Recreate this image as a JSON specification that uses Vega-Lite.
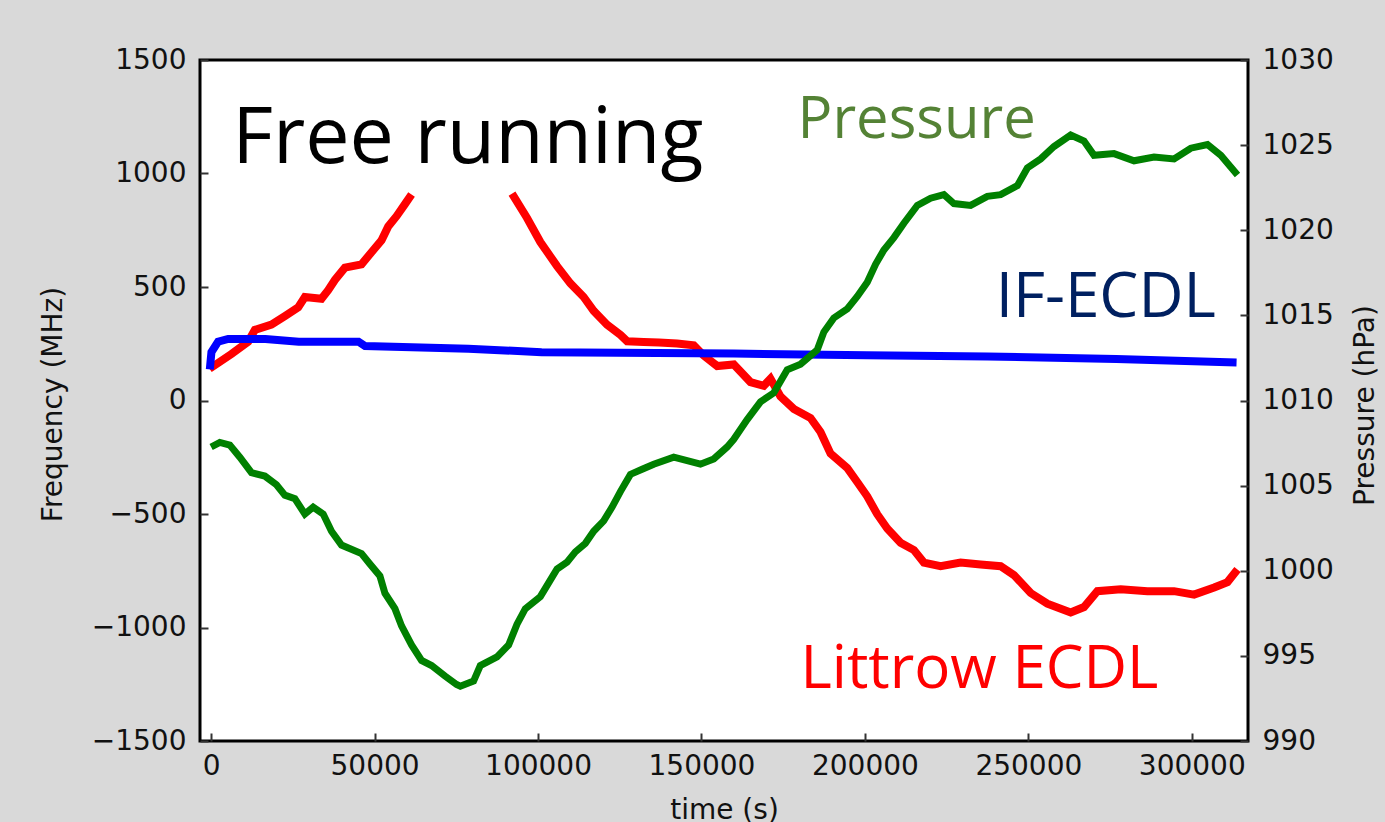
{
  "$schema": "https://vega.github.io/schema/vega-lite/v6.json",
  "autosize": {"type": "none"},
  "width": 1048,
  "height": 681,
  "padding": {"left": 200, "top": 60, "right": 137, "bottom": 81},
  "datasets": {
    "littrow": [
      {"t": -500, "f": 140, "seg": "a"}, {"t": 6214, "f": 205, "seg": "a"}, {"t": 11326, "f": 259, "seg": "a"}, {"t": 13378, "f": 311, "seg": "a"},
      {"t": 18459, "f": 334, "seg": "a"}, {"t": 22560, "f": 372, "seg": "a"}, {"t": 26632, "f": 410, "seg": "a"}, {"t": 28683, "f": 456, "seg": "a"},
      {"t": 33765, "f": 448, "seg": "a"}, {"t": 35816, "f": 486, "seg": "a"}, {"t": 37867, "f": 531, "seg": "a"}, {"t": 40928, "f": 585, "seg": "a"},
      {"t": 46010, "f": 600, "seg": "a"}, {"t": 49071, "f": 653, "seg": "a"}, {"t": 52133, "f": 706, "seg": "a"}, {"t": 54184, "f": 767, "seg": "a"},
      {"t": 56724, "f": 812, "seg": "a"}, {"t": 59296, "f": 865, "seg": "a"}, {"t": 61316, "f": 908, "seg": "a"},
      {"t": 92051, "f": 911, "seg": "b"}, {"t": 96643, "f": 804, "seg": "b"}, {"t": 100714, "f": 698, "seg": "b"}, {"t": 105826, "f": 592, "seg": "b"},
      {"t": 109898, "f": 516, "seg": "b"}, {"t": 113969, "f": 456, "seg": "b"}, {"t": 117030, "f": 395, "seg": "b"}, {"t": 121133, "f": 334, "seg": "b"},
      {"t": 125204, "f": 289, "seg": "b"}, {"t": 127255, "f": 261, "seg": "b"}, {"t": 132337, "f": 258, "seg": "b"}, {"t": 137000, "f": 255, "seg": "b"},
      {"t": 142561, "f": 251, "seg": "b"}, {"t": 147643, "f": 243, "seg": "b"}, {"t": 150704, "f": 198, "seg": "b"}, {"t": 154806, "f": 152, "seg": "b"},
      {"t": 159898, "f": 159, "seg": "b"}, {"t": 165000, "f": 81, "seg": "b"}, {"t": 169082, "f": 65, "seg": "b"}, {"t": 171122, "f": 96, "seg": "b"},
      {"t": 174184, "f": 18, "seg": "b"}, {"t": 178265, "f": -37, "seg": "b"}, {"t": 183367, "f": -77, "seg": "b"}, {"t": 186429, "f": -139, "seg": "b"},
      {"t": 189490, "f": -234, "seg": "b"}, {"t": 194592, "f": -297, "seg": "b"}, {"t": 197653, "f": -359, "seg": "b"}, {"t": 200714, "f": -422, "seg": "b"},
      {"t": 203776, "f": -501, "seg": "b"}, {"t": 206837, "f": -564, "seg": "b"}, {"t": 210918, "f": -627, "seg": "b"}, {"t": 214996, "f": -659, "seg": "b"},
      {"t": 218052, "f": -714, "seg": "b"}, {"t": 223156, "f": -730, "seg": "b"}, {"t": 229278, "f": -714, "seg": "b"}, {"t": 235408, "f": -722, "seg": "b"},
      {"t": 241531, "f": -730, "seg": "b"}, {"t": 245602, "f": -769, "seg": "b"}, {"t": 250714, "f": -848, "seg": "b"}, {"t": 255816, "f": -895, "seg": "b"},
      {"t": 262959, "f": -934, "seg": "b"}, {"t": 267031, "f": -910, "seg": "b"}, {"t": 271122, "f": -840, "seg": "b"}, {"t": 278265, "f": -832, "seg": "b"},
      {"t": 286429, "f": -840, "seg": "b"}, {"t": 294582, "f": -840, "seg": "b"}, {"t": 300704, "f": -855, "seg": "b"}, {"t": 306837, "f": -824, "seg": "b"},
      {"t": 310918, "f": -800, "seg": "b"}, {"t": 313980, "f": -745, "seg": "b"}
    ],
    "ifecdl": [
      {"t": -400, "f": 137}, {"t": 100, "f": 213}, {"t": 2143, "f": 259}, {"t": 5204, "f": 271}, {"t": 16600, "f": 271},
      {"t": 26800, "f": 259}, {"t": 45100, "f": 259}, {"t": 47100, "f": 240}, {"t": 78700, "f": 228}, {"t": 101100, "f": 213},
      {"t": 159900, "f": 207}, {"t": 200600, "f": 199}, {"t": 237500, "f": 194}, {"t": 276900, "f": 183}, {"t": 313700, "f": 167}
    ],
    "pressure": [
      {"t": 0, "p": 1007.27}, {"t": 2663, "p": 1007.54}, {"t": 5724, "p": 1007.38}, {"t": 8786, "p": 1006.67}, {"t": 12337, "p": 1005.76},
      {"t": 16439, "p": 1005.56}, {"t": 19990, "p": 1005.05}, {"t": 22561, "p": 1004.44}, {"t": 25622, "p": 1004.24}, {"t": 28683, "p": 1003.33},
      {"t": 31224, "p": 1003.74}, {"t": 34285, "p": 1003.33}, {"t": 36826, "p": 1002.32}, {"t": 39887, "p": 1001.51}, {"t": 46010, "p": 1001.01},
      {"t": 48581, "p": 1000.40}, {"t": 51642, "p": 999.69}, {"t": 53173, "p": 998.68}, {"t": 56234, "p": 997.77}, {"t": 58254, "p": 996.76},
      {"t": 61316, "p": 995.64}, {"t": 64377, "p": 994.73}, {"t": 67438, "p": 994.43}, {"t": 71540, "p": 993.82}, {"t": 75091, "p": 993.32},
      {"t": 76224, "p": 993.22}, {"t": 80295, "p": 993.52}, {"t": 82346, "p": 994.43}, {"t": 87458, "p": 994.94}, {"t": 91009, "p": 995.64},
      {"t": 93580, "p": 996.86}, {"t": 96122, "p": 997.77}, {"t": 100713, "p": 998.48}, {"t": 103254, "p": 999.29}, {"t": 105826, "p": 1000.10},
      {"t": 108887, "p": 1000.50}, {"t": 111428, "p": 1001.11}, {"t": 114489, "p": 1001.61}, {"t": 117030, "p": 1002.32}, {"t": 120092, "p": 1002.93},
      {"t": 122663, "p": 1003.74}, {"t": 125204, "p": 1004.65}, {"t": 128265, "p": 1005.66}, {"t": 131847, "p": 1005.96}, {"t": 135398, "p": 1006.26},
      {"t": 141520, "p": 1006.67}, {"t": 145622, "p": 1006.47}, {"t": 149693, "p": 1006.26}, {"t": 153765, "p": 1006.57}, {"t": 157867, "p": 1007.27},
      {"t": 159888, "p": 1007.72}, {"t": 163990, "p": 1008.88}, {"t": 168062, "p": 1009.92}, {"t": 172133, "p": 1010.45}, {"t": 176235, "p": 1011.81},
      {"t": 180306, "p": 1012.13}, {"t": 185418, "p": 1012.97}, {"t": 187439, "p": 1014.02}, {"t": 190500, "p": 1014.85}, {"t": 194602, "p": 1015.38},
      {"t": 197663, "p": 1016.11}, {"t": 200724, "p": 1016.95}, {"t": 203265, "p": 1018.00}, {"t": 205806, "p": 1018.84}, {"t": 208867, "p": 1019.57},
      {"t": 211928, "p": 1020.41}, {"t": 216030, "p": 1021.46}, {"t": 220102, "p": 1021.88}, {"t": 224173, "p": 1022.09}, {"t": 227234, "p": 1021.57},
      {"t": 232346, "p": 1021.46}, {"t": 237458, "p": 1021.99}, {"t": 241529, "p": 1022.09}, {"t": 246642, "p": 1022.62}, {"t": 249703, "p": 1023.66},
      {"t": 253774, "p": 1024.19}, {"t": 257846, "p": 1024.92}, {"t": 262957, "p": 1025.59}, {"t": 267028, "p": 1025.24}, {"t": 270089, "p": 1024.40},
      {"t": 276212, "p": 1024.50}, {"t": 282334, "p": 1024.08}, {"t": 288456, "p": 1024.30}, {"t": 294579, "p": 1024.19}, {"t": 299691, "p": 1024.82},
      {"t": 304803, "p": 1025.03}, {"t": 308874, "p": 1024.40}, {"t": 313987, "p": 1023.25}
    ]
  },
  "encoding": {
    "x": {
      "field": "t", "type": "quantitative",
      "scale": {"domain": [-3400, 317200], "nice": false, "zero": false},
      "axis": {"orient": "bottom", "title": "time (s)", "values": [0, 50000, 100000, 150000, 200000, 250000, 300000], "format": "d", "offset": -8, "labelPadding": 11, "titleY": 85, "titleBaseline": "alphabetic"}
    }
  },
  "layer": [
    {
      "encoding": {
        "y": {
          "field": "f", "type": "quantitative",
          "scale": {"domain": [-1500, 1500], "nice": false, "zero": false},
          "axis": {"orient": "left", "title": "Frequency (MHz)", "values": [-1500, -1000, -500, 0, 500, 1000, 1500], "format": "d", "offset": -8, "labelPadding": 14, "titleAngle": 270, "titleBaseline": "alphabetic", "titleAlign": "center", "titleX": -147, "titleY": 344}
        }
      },
      "layer": [
        {"data": {"name": "littrow"}, "mark": {"type": "line", "color": "#ff0000", "strokeWidth": 8, "clip": true}, "encoding": {"detail": {"field": "seg"}}},
        {"data": {"name": "ifecdl"}, "mark": {"type": "line", "color": "#0000ff", "strokeWidth": 8, "clip": true}, "encoding": {}},
        {"data": {"values": [{"t": 6429, "f": 1046, "label": "Free running"}]}, "mark": {"type": "text", "align": "left", "baseline": "alphabetic", "font": "Open Sans", "fontSize": 79, "color": "#000000"}, "encoding": {"text": {"field": "label"}}},
        {"data": {"values": [{"t": 179388, "f": 1156, "label": "Pressure"}]}, "mark": {"type": "text", "align": "left", "baseline": "alphabetic", "font": "Open Sans", "fontSize": 58, "color": "#548235"}, "encoding": {"text": {"field": "label"}}},
        {"data": {"values": [{"t": 240000, "f": 369, "label": "IF-ECDL"}]}, "mark": {"type": "text", "align": "left", "baseline": "alphabetic", "font": "Open Sans", "fontSize": 62, "color": "#002060"}, "encoding": {"text": {"field": "label"}}},
        {"data": {"values": [{"t": 180305, "f": -1266, "label": "Littrow ECDL"}]}, "mark": {"type": "text", "align": "left", "baseline": "alphabetic", "font": "Open Sans", "fontSize": 60, "color": "#ff0000"}, "encoding": {"text": {"field": "label"}}}
      ]
    },
    {
      "data": {"name": "pressure"},
      "mark": {"type": "line", "color": "#008000", "strokeWidth": 7, "clip": true},
      "encoding": {
        "y": {
          "field": "p", "type": "quantitative",
          "scale": {"domain": [990, 1030], "nice": false, "zero": false},
          "axis": {"orient": "right", "title": "Pressure (hPa)", "values": [990, 995, 1000, 1005, 1010, 1015, 1020, 1025, 1030], "format": "d", "offset": -8, "labelPadding": 14, "titleAngle": 270, "titleBaseline": "alphabetic", "titleAlign": "center", "titleX": 133, "titleY": 345}
        }
      }
    }
  ],
  "resolve": {"scale": {"y": "independent"}},
  "config": {
    "background": "#d9d9d9",
    "view": {"fill": "white", "stroke": "black", "strokeWidth": 3},
    "axis": {
      "domain": false, "grid": false, "zindex": 1,
      "tickColor": "#333333", "tickWidth": 2, "tickSize": 8,
      "labelFont": "DejaVu Sans", "labelFontSize": 28, "labelColor": "#111111",
      "titleFont": "DejaVu Sans", "titleFontSize": 28, "titleFontWeight": "normal", "titleColor": "#111111"
    }
  }
}
